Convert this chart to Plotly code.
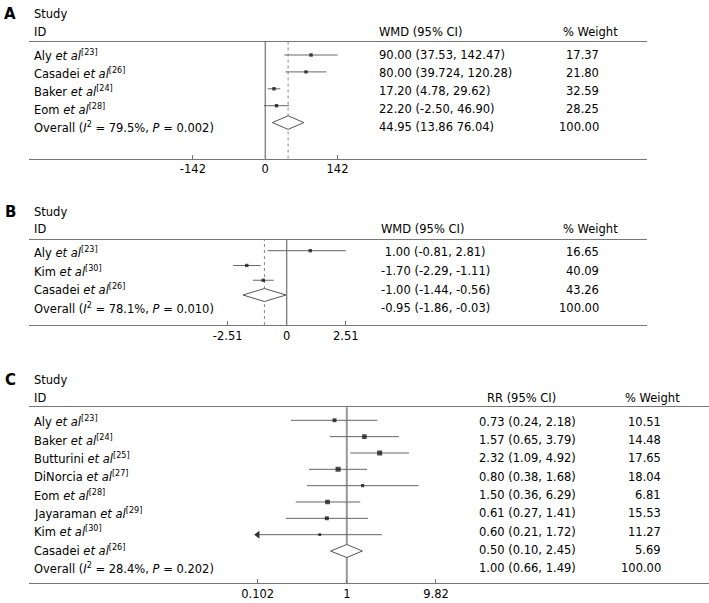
import plotly.graph_objects as go
import math

W, H = 709, 603
FONT = "DejaVu Sans"
FS = 11.5
LINE = "#777777"
CI_COL = "#666666"

# ---------------- Panel A data (WMD) ----------------
a_names = ["Aly", "Casadei", "Baker", "Eom"]
a_refs = [23, 26, 24, 28]
a_est = [90.00, 80.00, 17.20, 22.20]
a_lo = [37.53, 39.724, 4.78, -2.50]
a_hi = [142.47, 120.28, 29.62, 46.90]
a_wt = [17.37, 21.80, 32.59, 28.25]
a_overall = [44.95, 13.86, 76.04]
a_i2, a_p = "79.5%", "0.002"
a_ticks = [-142, 0, 142]
a_tick_labels = ["-142", "0", "142"]
a_ci_text = ["90.00 (37.53, 142.47)", "80.00 (39.724, 120.28)", "17.20 (4.78, 29.62)",
             "22.20 (-2.50, 46.90)", "44.95 (13.86 76.04)"]
a_wt_text = ["17.37", "21.80", "32.59", "28.25", "100.00"]

# ---------------- Panel B data (WMD) ----------------
b_names = ["Aly", "Kim", "Casadei"]
b_refs = [23, 30, 26]
b_est = [1.00, -1.70, -1.00]
b_lo = [-0.81, -2.29, -1.44]
b_hi = [2.81, -1.11, -0.56]
b_wt = [16.65, 40.09, 43.26]
b_overall = [-0.95, -1.86, -0.03]
b_i2, b_p = "78.1%", "0.010"
b_ticks = [-2.51, 0, 2.51]
b_tick_labels = ["-2.51", "0", "2.51"]
b_ci_text = ["\u00a01.00 (-0.81, 2.81)", "-1.70 (-2.29, -1.11)", "-1.00 (-1.44, -0.56)",
             "-0.95 (-1.86, -0.03)"]
b_wt_text = ["16.65", "40.09", "43.26", "100.00"]

# ---------------- Panel C data (RR) ----------------
c_names = ["Aly", "Baker", "Butturini", "DiNorcia", "Eom", "Jayaraman", "Kim", "Casadei"]
c_refs = [23, 24, 25, 27, 28, 29, 30, 26]
c_est = [0.73, 1.57, 2.32, 0.80, 1.50, 0.61, 0.60, 0.50]
c_lo = [0.24, 0.65, 1.09, 0.38, 0.36, 0.27, 0.21, 0.10]
c_hi = [2.18, 3.79, 4.92, 1.68, 6.29, 1.41, 1.72, 2.45]
c_wt = [10.51, 14.48, 17.65, 18.04, 6.81, 15.53, 11.27, 5.69]
c_overall = [1.00, 0.66, 1.49]
c_i2, c_p = "28.4%", "0.202"
c_ticks = [0.102, 1, 9.82]
c_tick_labels = ["0.102", "1", "9.82"]
c_ci_text = ["0.73 (0.24, 2.18)", "1.57 (0.65, 3.79)", "2.32 (1.09, 4.92)", "0.80 (0.38, 1.68)",
             "1.50 (0.36, 6.29)", "0.61 (0.27, 1.41)", "0.60 (0.21, 1.72)", "0.50 (0.10, 2.45)",
             "1.00 (0.66, 1.49)"]
c_wt_text = ["10.51", "14.48", "17.65", "18.04", "6.81", "15.53", "11.27", "5.69", "100.00"]


def px(p):
    return p / W


def py(p):
    return 1 - p / H


TXT = dict(family=FONT, size=FS, color="black")

fig = go.Figure()
annotations = []
shapes = []
layout_axes = {}


def study_label(name, ref):
    return f"{name} <i>et al</i><sup>[{ref}]</sup>"


def add_panel(k, letter, names, refs, est, lo, hi, wt, overall, i2, p, ticks, tick_labels,
              ci_text, wt_text, measure, cfg):
    xi = k + 1
    ym = 2 * k + 1
    yt = 2 * k + 2
    xname = "x" if xi == 1 else f"x{xi}"
    ymname = "y" if ym == 1 else f"y{ym}"
    ytname = f"y{yt}"
    n = len(est)
    rows = list(range(1, n + 1))
    tmin, tmax = ticks[0], ticks[-1]

    # CI lines (clipped to axis tick range)
    xs, ys = [], []
    for r, l, h in zip(rows, lo, hi):
        xs += [max(l, tmin), min(h, tmax), None]
        ys += [r, r, None]
    fig.add_trace(go.Scatter(x=xs, y=ys, mode="lines", line=dict(color=CI_COL, width=1),
                             xaxis=xname, yaxis=ymname, hoverinfo="skip", showlegend=False))
    # arrows for clipped CIs
    if cfg.get("arrows"):
        ax = [tmin for l in lo if l < tmin]
        ay = [r for r, l in zip(rows, lo) if l < tmin]
        if ax:
            fig.add_trace(go.Scatter(x=ax, y=ay, mode="markers",
                                     marker=dict(symbol="triangle-left", size=7, color="#333333"),
                                     xaxis=xname, yaxis=ymname, hoverinfo="skip", showlegend=False))
    # point estimates
    if cfg.get("scale_markers"):
        sizes = [1.2 * math.sqrt(w) for w in wt]
    else:
        sizes = [3.4] * n
    fig.add_trace(go.Scatter(x=est, y=rows, mode="markers",
                             marker=dict(symbol="square", size=sizes, color="black",
                                         line=dict(width=0)),
                             xaxis=xname, yaxis=ymname, showlegend=False))
    # overall diamond
    ro = n + 1
    hh = cfg["diamond_h"]
    e, l, h = overall
    fig.add_trace(go.Scatter(x=[l, e, h, e, l], y=[ro, ro - hh, ro, ro + hh, ro],
                             mode="lines", fill="toself", fillcolor="white",
                             line=dict(color="#555555", width=1),
                             xaxis=xname, yaxis=ymname, hoverinfo="skip", showlegend=False))

    # vertical reference lines
    null_val = 1 if cfg.get("log") else 0
    shapes.append(dict(type="line", xref=xname, yref=f"{ymname} domain", x0=e, x1=e, y0=0, y1=1,
                       line=dict(color="#888888", width=1, dash="dot"), layer="below"))
    shapes.append(dict(type="line", xref=xname, yref=f"{ymname} domain", x0=null_val, x1=null_val,
                       y0=0, y1=1, line=dict(color=cfg["null_color"], width=cfg["null_width"]),
                       layer="below"))

    # axes
    top_px, bot_px = cfg["y_px"]
    xl_px, xr_px = cfg["x_px"]
    xa = dict(domain=[px(xl_px), px(xr_px)], range=cfg["xrange"], anchor=ymname,
              type="log" if cfg.get("log") else "linear",
              showline=True, mirror=True, linecolor=LINE, linewidth=1,
              ticks="inside", ticklen=4, tickcolor=LINE, tickwidth=1,
              tickvals=ticks, ticktext=tick_labels, showgrid=False, zeroline=False,
              tickfont=TXT, fixedrange=True)
    layout_axes["xaxis" if xi == 1 else f"xaxis{xi}"] = xa
    m0, msp = cfg["mrow"]
    t0, tsp = cfg["trow"]
    layout_axes["yaxis" if ym == 1 else f"yaxis{ym}"] = dict(
        domain=[py(bot_px), py(top_px)], anchor=xname, visible=False,
        range=[1 + (bot_px - m0) / msp, 1 - (m0 - top_px) / msp], fixedrange=True)
    layout_axes[f"yaxis{yt}"] = dict(
        overlaying=ymname, anchor=xname, visible=False,
        range=[1 + (bot_px - t0) / tsp, 1 - (t0 - top_px) / tsp], fixedrange=True)

    # row texts
    labels = [study_label(nm, rf) for nm, rf in zip(names, refs)]
    labels.append(f"Overall (<i>I</i><sup>2</sup> = {i2}, <i>P</i> = {p})")
    trows = list(range(1, n + 2))
    for r, lab, ct, wtt in zip(trows, labels, ci_text, wt_text):
        annotations.append(dict(x=px(32), y=r, xref="paper", yref=ytname, text=lab, font=TXT,
                                showarrow=False, xanchor="left", yanchor="middle"))
        annotations.append(dict(x=px(cfg["ci_x"]), y=r, xref="paper", yref=ytname, text=ct,
                                font=TXT, showarrow=False, xanchor="left", yanchor="middle"))
        annotations.append(dict(x=px(cfg["wt_x"]), y=r, xref="paper", yref=ytname, text=wtt,
                                font=TXT, showarrow=False, xanchor="right", yanchor="middle"))
    # headers
    hy1, hy2 = cfg["head_y"]
    annotations.append(dict(x=px(10), y=py(hy1), xref="paper", yref="paper",
                            text=f"<b>{letter}</b>", showarrow=False, xanchor="center",
                            yanchor="middle", font=dict(family=FONT, size=15, color="black")))
    annotations.append(dict(x=px(32), y=py(hy1), xref="paper", yref="paper", text="Study",
                            font=TXT, showarrow=False, xanchor="left", yanchor="middle"))
    annotations.append(dict(x=px(32), y=py(hy2), xref="paper", yref="paper", text="ID",
                            font=TXT, showarrow=False, xanchor="left", yanchor="middle"))
    annotations.append(dict(x=px(cfg["mh_x"]), y=py(hy2), xref="paper", yref="paper",
                            text=measure, font=TXT, showarrow=False, xanchor="left",
                            yanchor="middle"))
    annotations.append(dict(x=px(cfg["wh_x"]), y=py(hy2), xref="paper", yref="paper",
                            text="% Weight", font=TXT, showarrow=False, xanchor="center",
                            yanchor="middle"))


add_panel(0, "A", a_names, a_refs, a_est, a_lo, a_hi, a_wt, a_overall, a_i2, a_p,
          a_ticks, a_tick_labels, a_ci_text, a_wt_text, "WMD (95% CI)",
          dict(x_px=(29, 647), y_px=(42, 158.5), xrange=[-463.9, 749.8],
               mrow=(55, 16.9), trow=(55, 18.1), diamond_h=0.4,
               null_color="#555555", null_width=1, ci_x=377.5, wt_x=600.5,
               head_y=(14, 32), mh_x=377.5, wh_x=590))

add_panel(1, "B", b_names, b_refs, b_est, b_lo, b_hi, b_wt, b_overall, b_i2, b_p,
          b_ticks, b_tick_labels, b_ci_text, b_wt_text, "WMD (95% CI)",
          dict(x_px=(29, 647), y_px=(240, 325), xrange=[-10.963, 15.323],
               mrow=(250.7, 14.77), trow=(252.3, 18.7), diamond_h=0.44,
               null_color="#555555", null_width=1, ci_x=379.3, wt_x=600.5,
               head_y=(211.5, 229.3), mh_x=379.3, wh_x=590))

add_panel(2, "C", c_names, c_refs, c_est, c_lo, c_hi, c_wt, c_overall, c_i2, c_p,
          c_ticks, c_tick_labels, c_ci_text, c_wt_text, "RR (95% CI)",
          dict(x_px=(29, 709), y_px=(407.3, 583.3), xrange=[-3.535, 4.029], log=True,
               mrow=(420.3, 16.34), trow=(421.7, 18.33), diamond_h=0.4,
               scale_markers=True, arrows=True,
               null_color="#999999", null_width=2, ci_x=476.7, wt_x=662.5,
               head_y=(380, 398), mh_x=485, wh_x=652))

fig.update_layout(
    width=W, height=H,
    margin=dict(l=0, r=0, t=0, b=0),
    paper_bgcolor="white", plot_bgcolor="white",
    font=TXT,
    showlegend=False,
    annotations=annotations,
    shapes=shapes,
    **layout_axes,
)

fig.write_html("out.html", config={"displayModeBar": False, "staticPlot": True},
               post_script="document.body.style.margin='0';document.body.style.overflow='hidden';")
